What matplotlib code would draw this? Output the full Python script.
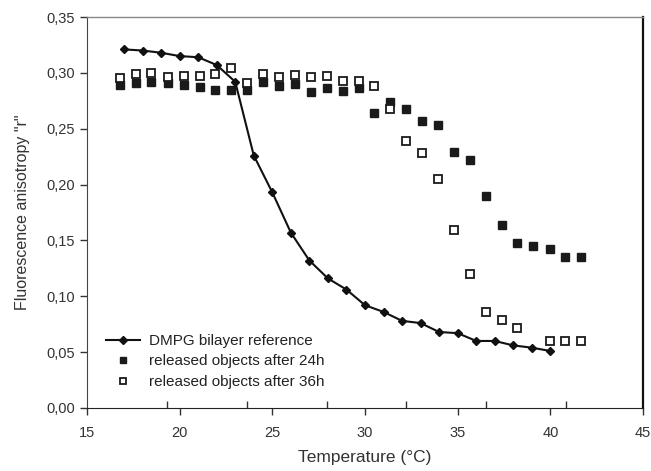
import numpy as np
import matplotlib
matplotlib.use('Agg')
import matplotlib.pyplot as plt
from matplotlib.ticker import FuncFormatter

plt.rcParams['font.family'] = ['Liberation Sans', 'DejaVu Sans']

# DMPG bilayer reference
ref_t = [17.0, 18.0, 19.0, 20.0, 21.0, 22.0, 23.0, 24.0, 25.0, 26.0, 27.0, 28.0,
         29.0, 30.0, 31.0, 32.0, 33.0, 34.0, 35.0, 36.0, 37.0, 38.0, 39.0, 40.0]
ref_r = [0.321, 0.320, 0.318, 0.315, 0.314, 0.307, 0.292, 0.226, 0.193, 0.157, 0.132, 0.116,
         0.106, 0.092, 0.086, 0.078, 0.076, 0.068, 0.067, 0.060, 0.060, 0.056, 0.054, 0.051]

# released objects after 24h
t24 = [16.78, 17.64, 18.45, 19.35, 20.22, 21.08, 21.92, 22.77, 23.65, 24.50,
       25.36, 26.22, 27.09, 27.95, 28.80, 29.66, 30.50, 31.35, 32.21, 33.09,
       33.96, 34.80, 35.67, 36.51, 37.38, 38.22, 39.08, 39.97, 40.79, 41.67]
r24 = [0.289, 0.291, 0.292, 0.291, 0.289, 0.287, 0.285, 0.285, 0.285, 0.292,
       0.288, 0.290, 0.283, 0.286, 0.284, 0.286, 0.264, 0.274, 0.268, 0.257,
       0.253, 0.229, 0.222, 0.190, 0.164, 0.148, 0.145, 0.142, 0.135, 0.135]

# released objects after 36h
t36 = [16.78, 17.64, 18.45, 19.35, 20.22, 21.08, 21.92, 22.77, 23.65, 24.50,
       25.36, 26.22, 27.09, 27.95, 28.80, 29.66, 30.50, 31.35, 32.21, 33.09,
       33.96, 34.80, 35.67, 36.51, 37.38, 38.22, 39.97, 40.79, 41.67]
r36 = [0.295, 0.299, 0.300, 0.296, 0.297, 0.297, 0.299, 0.304, 0.291, 0.299,
       0.296, 0.298, 0.296, 0.297, 0.293, 0.293, 0.288, 0.268, 0.239, 0.228,
       0.205, 0.159, 0.120, 0.086, 0.079, 0.072, 0.060, 0.060, 0.060]

fig = plt.figure(figsize=(6.51, 4.71), dpi=100)
ax = fig.add_axes([0.1336, 0.1338, 0.8541, 0.8301])

ax.plot(ref_t, ref_r, color='#111111', lw=1.5, marker='D', ms=4.5,
        label='DMPG bilayer reference', zorder=3)
ax.plot(t24, r24, ls='none', marker='s', ms=6, color='#1a1a1a',
        label='released objects after 24h', zorder=2)
ax.plot(t36, r36, ls='none', marker='s', ms=5.5, mfc='white', mec='#1a1a1a',
        mew=1.3, label='released objects after 36h', zorder=2)

ax.set_xlim(15, 45)
ax.set_ylim(0, 0.35)
ax.set_xticks(np.arange(15, 46, 5))
ax.set_yticks(np.arange(0, 0.351, 0.05))
ax.set_xticks(np.arange(15, 45, 4.31)[1:], minor=True)
ax.yaxis.set_major_formatter(FuncFormatter(lambda v, p: f'{v:.2f}'.replace('.', ',')))
ax.xaxis.set_major_formatter(FuncFormatter(lambda v, p: f'{v:.0f}'))

ax.tick_params(axis='both', which='major', direction='out', length=5, width=1,
               labelsize=10.5, labelcolor='#333333', color='#333333')
ax.tick_params(axis='x', which='major', pad=8)
ax.tick_params(axis='x', which='minor', direction='in', length=5, width=1, color='#333333')

ax.spines['top'].set_color('#888888')
ax.spines['top'].set_linewidth(1.0)
ax.spines['right'].set_color('#111111')
ax.spines['right'].set_linewidth(1.6)
ax.spines['left'].set_color('#444444')
ax.spines['bottom'].set_color('#222222')

ax.set_xlabel('Temperature (°C)', fontsize=12.5, color='#333333', labelpad=7)
ax.set_ylabel('Fluorescence anisotropy "r"', fontsize=11.5, color='#333333', labelpad=12)

ax.legend(loc='lower left', bbox_to_anchor=(0.0, 0.0), frameon=False, fontsize=11,
          labelspacing=0.42, handlelength=2.2, handletextpad=0.6, markerscale=0.8,
          borderaxespad=0.85, labelcolor='#222222')

fig.savefig('out.png', dpi=100)
